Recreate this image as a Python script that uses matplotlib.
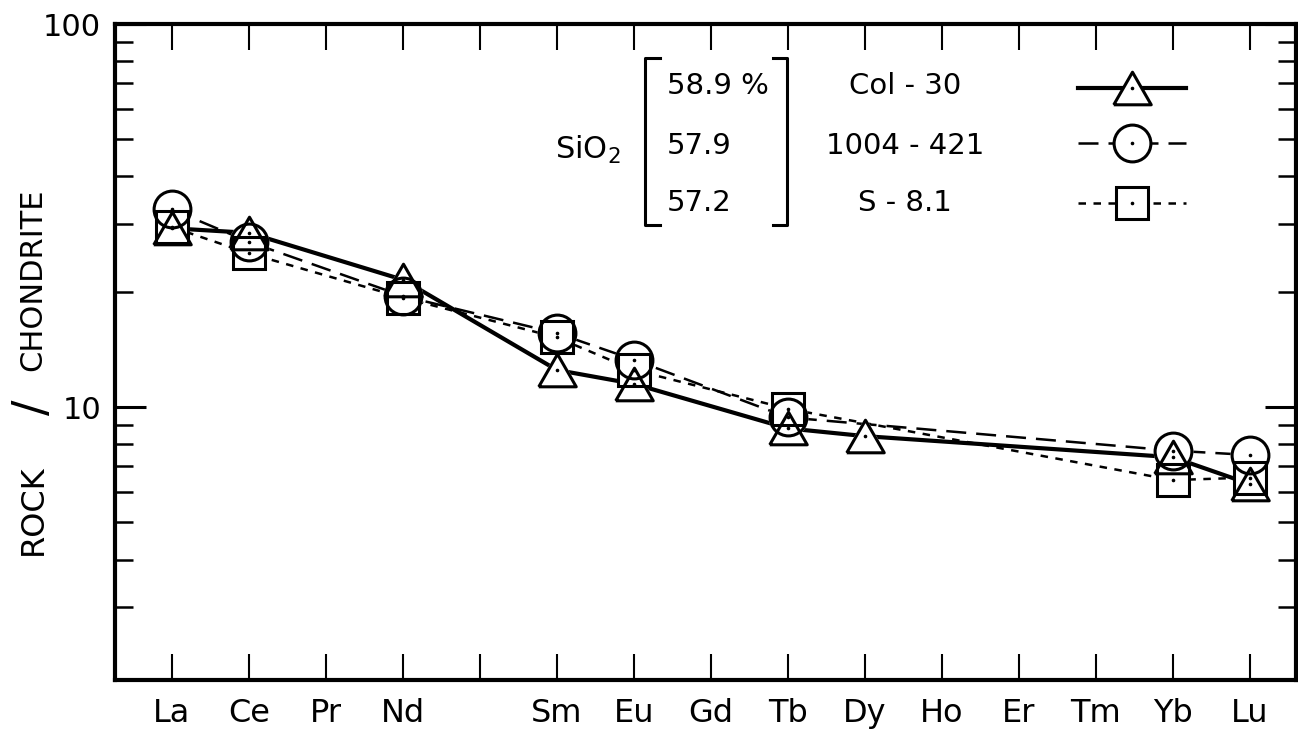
import matplotlib
matplotlib.use("Agg")
import matplotlib.pyplot as plt
from matplotlib.lines import Line2D
from matplotlib.ticker import FixedLocator, NullFormatter, FixedFormatter

plt.rcParams['font.family'] = ['DejaVu Sans']
plt.rcParams['mathtext.default'] = 'regular'

# ---------------- data ----------------
elements = ['La', 'Ce', 'Pr', 'Nd', 'Pm', 'Sm', 'Eu', 'Gd', 'Tb', 'Dy', 'Ho', 'Er', 'Tm', 'Yb', 'Lu']
tick_labels = ['La', 'Ce', 'Pr', 'Nd', '', 'Sm', 'Eu', 'Gd', 'Tb', 'Dy', 'Ho', 'Er', 'Tm', 'Yb', 'Lu']

col30_elements = ['La', 'Ce', 'Nd', 'Sm', 'Eu', 'Tb', 'Dy', 'Yb', 'Lu']
col30_values = [29.3, 28.5, 21.5, 12.5, 11.5, 8.8, 8.4, 7.4, 6.3]

s1004_elements = ['La', 'Ce', 'Nd', 'Sm', 'Eu', 'Tb', 'Yb', 'Lu']
s1004_values = [32.8, 27.0, 19.5, 15.6, 13.3, 9.4, 7.7, 7.5]

s81_elements = ['La', 'Ce', 'Nd', 'Sm', 'Eu', 'Tb', 'Yb', 'Lu']
s81_values = [29.5, 25.2, 19.3, 15.2, 12.5, 9.9, 6.45, 6.55]

sample_names = ['Col - 30', '1004 - 421', 'S - 8.1']
sio2_values = ['58.9 %', '57.9', '57.2']

W, H = 1298, 730
fig = plt.figure(figsize=(W / 100, H / 100), dpi=100)
L, R, T, B = 115, 1296, 24, 680
ax = fig.add_axes([L / W, 1 - B / H, (R - L) / W, (B - T) / H])

def xs(names):
    return [elements.index(n) for n in names]

tri = [(-1.15, -1.0), (1.15, -1.0), (0.0, 1.0), (-1.15, -1.0)]

series = [
    (col30_elements, col30_values, tri, 27, dict(linestyle='-', linewidth=3.0)),
    (s1004_elements, s1004_values, 'o', 26.5, dict(linestyle=(0, (8, 4)), linewidth=1.8)),
    (s81_elements, s81_values, 's', 23, dict(linestyle=(0, (3, 3)), linewidth=1.8)),
]

for names, vals, mk, ms, ls in series:
    ax.plot(xs(names), vals, color='black', zorder=2, **ls)
for names, vals, mk, ms, ls in series:
    ax.plot(xs(names), vals, linestyle='none', marker=mk, markersize=ms,
            markerfacecolor='white', markeredgecolor='white', markeredgewidth=2.2, zorder=3)
for names, vals, mk, ms, ls in series:
    ax.plot(xs(names), vals, linestyle='none', marker=mk, markersize=ms,
            fillstyle='none', markeredgecolor='black', markeredgewidth=2.2, zorder=4)
    ax.plot(xs(names), vals, linestyle='none', marker='o', markersize=1.6,
            color='black', zorder=5)

ax.set_yscale('log')
ax.set_ylim(1.94, 100)
ax.set_xlim(-0.74, 14.6)

ax.xaxis.set_major_locator(FixedLocator(range(len(elements))))
ax.set_xticklabels(tick_labels, fontsize=23)
ax.tick_params(axis='x', which='major', direction='in', length=19, width=1.5,
               top=True, bottom=True, pad=13)

ax.yaxis.set_major_locator(FixedLocator([10, 100]))
ax.yaxis.set_major_formatter(FixedFormatter(['10', '100']))
ax.yaxis.set_minor_locator(FixedLocator([3, 4, 5, 6, 7, 8, 9, 20, 30, 40, 50, 60, 70, 80, 90]))
ax.yaxis.set_minor_formatter(NullFormatter())
ax.tick_params(axis='y', which='major', direction='in', length=22, width=2.2,
               left=True, right=True, labelsize=22, pad=10)
ax.tick_params(axis='y', which='minor', direction='in', length=13, width=1.8,
               left=True, right=True)
for sp in ax.spines.values():
    sp.set_linewidth(3)

# y label: ROCK / CHONDRITE
fig.text(33 / W, 1 - 510 / H, 'ROCK', rotation=90, ha='center', va='center', fontsize=23)
fig.text(34 / W, 1 - 407 / H, '/', rotation=90, ha='center', va='center', fontsize=33)
fig.text(33 / W, 1 - 280 / H, 'CHONDRITE', rotation=90, ha='center', va='center', fontsize=22)

# legend block
def F(px, py):
    return (px / W, 1 - py / H)

fs = 21
fig.text(*F(588, 150), 'SiO$_2$', ha='center', va='center', fontsize=fs + 1)
row_y = [86, 146, 203]
for yv, s in zip(row_y, sio2_values):
    fig.text(*F(667, yv), s, ha='left', va='center', fontsize=fs)
for yv, s in zip(row_y, sample_names):
    fig.text(*F(905, yv), s, ha='center', va='center', fontsize=fs)

def fig_line(pts, **kw):
    xsv = [p[0] / W for p in pts]
    ysv = [1 - p[1] / H for p in pts]
    fig.add_artist(Line2D(xsv, ysv, color='black', **kw))

fig_line([(660, 58), (645, 58), (645, 225), (660, 225)], linewidth=2.2)
fig_line([(773, 58), (787, 58), (787, 225), (773, 225)], linewidth=2.2)

leg_y = [88, 143, 203]
leg_x0, leg_xc, leg_x1 = 1078, 1132, 1186
for yv, (names, vals, mk, ms, ls) in zip(leg_y, series):
    fig_line([(leg_x0, yv), (leg_x1, yv)], **ls)
    fig_line([(leg_xc, yv)], marker=mk, markersize=ms, markerfacecolor='white',
             markeredgecolor='black', markeredgewidth=2.2, linestyle='none')
    fig_line([(leg_xc, yv)], marker='o', markersize=1.6, linestyle='none')

fig.savefig('out.png', dpi=100, facecolor='white')
